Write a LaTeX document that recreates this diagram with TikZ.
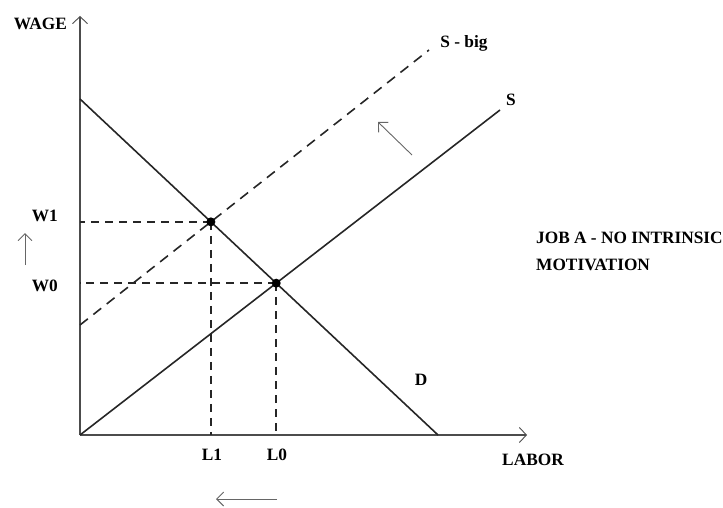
\documentclass[tikz,border=0pt]{standalone}
\usepackage{fontspec}
\setmainfont{Liberation Serif}
\usepackage{xcolor}
\usetikzlibrary{arrows.meta,positioning,calc}

\begin{document}
\begin{tikzpicture}[x=1pt,y=1pt,
  every node/.style={font=\bfseries\fontsize{17.3}{27}\selectfont},
  lb/.style={inner sep=1pt,align=left},
  ax/.style={line width=1.1pt,black!70,-{Straight Barb[length=7pt,width=15pt,line width=0.9pt]}},
  crv/.style={line width=1.6pt,black!85},
  guide/.style={line width=1.6pt,black!85,dash pattern=on 8pt off 6pt},
  mv/.style={line width=0.9pt,black!60,-{Straight Barb[length=7pt,width=14pt,line width=0.9pt]}},
  dot/.style={circle,fill,inner sep=0pt,minimum size=9pt}]
 \useasboundingbox (-80,-72) rectangle (643,435);
 % axes
 \coordinate (O) at (0,0);
 \coordinate (ytop) at (0,419);
 \coordinate (xend) at (447,0);
 \draw[ax] (O)--(ytop);
 \draw[ax] (O)--(xend);
 % demand and supply
 \coordinate (D1) at (0,336);
 \coordinate (D2) at (358,0);
 \coordinate (S1) at (0,0);
 \coordinate (S2) at (420,325);
 \coordinate (B1) at (0,110);
 \coordinate (B2) at (349,385);
 \draw[crv] (D1)--(D2);
 \draw[crv] (S1)--(S2);
 \draw[crv,dash pattern=on 10pt off 7pt] (B1)--(B2);
 % equilibria
 \coordinate (E1) at (intersection of D1--D2 and B1--B2);
 \coordinate (E0) at (intersection of D1--D2 and S1--S2);
 \foreach \p in {E1,E0}{
   \draw[guide] (\p)--(\p -| O);
   \draw[guide] (\p)--(\p |- O);
   \node[dot] at (\p) {};
 }
 % labels
 \node[lb,anchor=east] (wage) at (-12,411) {WAGE};
 \node[lb,anchor=east] (w1) at (-21,219) {W1};
 \node[lb,anchor=east] (w0) at (-21,149) {W0};
 \node[lb] (l1) at (132,-20) {L1};
 \node[lb] (l0) at (197,-20) {L0};
 \node[lb] (labor) at (453,-25) {LABOR};
 \node[lb] (sbig) at (384,392) {S - big};
 \node[lb] (s) at (431,335) {S};
 \node[lb] (d) at (341,55) {D};
 \node[lb,anchor=west] (job) at (455,184) {JOB A - NO INTRINSIC\\MOTIVATION};
 % shift arrows
 \coordinate (wa) at (-55,170);
 \coordinate (wb) at (-55,202);
 \coordinate (la) at (197,-64);
 \coordinate (lz) at (136,-64);
 \coordinate (sa) at (332,280);
 \coordinate (sb) at (298,313);
 \foreach \a/\b in {wa/wb,la/lz,sa/sb}
   \draw[mv] (\a)--(\b);
\end{tikzpicture}
\end{document}
